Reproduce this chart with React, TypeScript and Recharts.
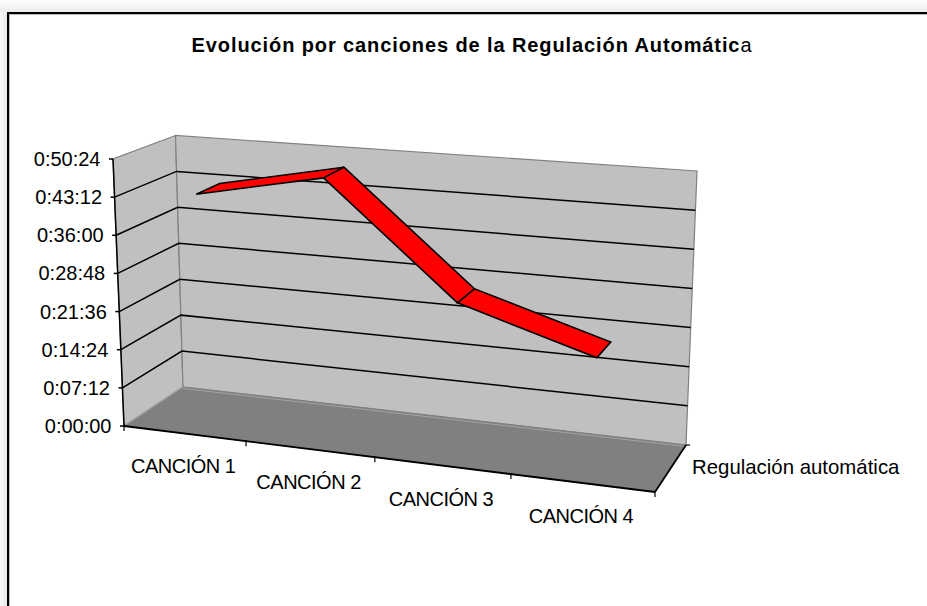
import { LineChart, Line, XAxis, YAxis, Customized } from 'recharts';

const CATEGORIES = ['CANCIÓN 1', 'CANCIÓN 2', 'CANCIÓN 3', 'CANCIÓN 4'];
// durations in seconds
const DURATIONS = [2585, 2882, 1624, 1179];
const Y_TICKS = [0, 432, 864, 1296, 1728, 2160, 2592, 3024];
const SERIES_NAME = 'Regulación automática';

const data = CATEGORIES.map((name, i) => ({ name, seconds: DURATIONS[i] }));

const WIDTH = 927;
const HEIGHT = 606;
const FONT = "'Liberation Sans', Arial, sans-serif";

// front face of the box, in the flat chart the axes lay out
const PLOT = { left: 124, top: 159, right: 655, bottom: 426 };
const PLOT_W = PLOT.right - PLOT.left;
const PLOT_H = PLOT.bottom - PLOT.top;

// box corners on screen: F/B front/back, L/R left/right, T/B top/bottom
const FLB = [124, 426];
const FRB = [655, 492];
const FLT = [113, 159];
const FRT = [667, 201];
const BLB = [183, 387];
const BRB = [686, 445];
const BLT = [175.5, 135.5];
const BRT = [697, 171];

const RIBBON_NEAR = 0.33;
const RIBBON_FAR = 0.73;

const mix = (a: number[], b: number[], t: number) => [a[0] + (b[0] - a[0]) * t, a[1] + (b[1] - a[1]) * t];

// u along categories, v along time, w into the depth
function project(u: number, v: number, w: number) {
  // the categories foreshorten towards the back of the box
  const k = 1.117;
  const t = u / (u + k * (1 - u));
  const front = mix(mix(FLB, FRB, t), mix(FLT, FRT, t), v);
  const back = mix(mix(BLB, BRB, t), mix(BLT, BRT, t), v);
  return mix(front, back, w);
}

const toU = (x: number) => (x - PLOT.left) / PLOT_W;
const toV = (y: number) => (PLOT.bottom - y) / PLOT_H;
const pts = (list: number[][]) => list.map((p) => p.join(',')).join(' ');

function formatDuration(s: number) {
  const h = Math.floor(s / 3600);
  const m = Math.floor((s % 3600) / 60);
  const sec = s % 60;
  return `${h}:${String(m).padStart(2, '0')}:${String(sec).padStart(2, '0')}`;
}

function Box() {
  const vmax = Y_TICKS[Y_TICKS.length - 1];
  return (
    <g>
      <polygon points={pts([FLB, FLT, BLT, BLB])} fill="#C0C0C0" stroke="#808080" strokeWidth={1.2} />
      <polygon points={pts([BLB, BLT, BRT, BRB])} fill="#C0C0C0" stroke="#808080" strokeWidth={1.2} />
      <polygon points={pts([FLB, BLB, BRB, FRB])} fill="#808080" stroke="#808080" strokeWidth={1} />
      <line x1={BLB[0]} y1={BLB[1] + 1.5} x2={BRB[0]} y2={BRB[1] + 1.5} stroke="#ABABAB" strokeWidth={0.8} />
      <line x1={FLB[0]} y1={FLB[1]} x2={BLB[0]} y2={BLB[1]} stroke="#A8A8A8" strokeWidth={1} />

      {Y_TICKS.slice(1, -1).map((tick) => {
        const v = tick / vmax;
        const a = project(0, v, 0);
        const b = project(0, v, 1);
        const c = project(1, v, 1);
        return (
          <polyline key={tick} points={pts([a, b, c])} fill="none" stroke="#000" strokeWidth={1.5} />
        );
      })}

      <line x1={FLT[0]} y1={FLT[1]} x2={FLB[0]} y2={FLB[1]} stroke="#000" strokeWidth={1.5} />
      <line x1={FLB[0]} y1={FLB[1]} x2={FRB[0]} y2={FRB[1]} stroke="#000" strokeWidth={1.8} />
      <line x1={FRB[0]} y1={FRB[1]} x2={BRB[0]} y2={BRB[1]} stroke="#000" strokeWidth={1.8} />

      {/* category boundaries along the front edge */}
      {[0, 1, 2, 3, 4].map((i) => {
        const p = project(i / CATEGORIES.length, 0, 0);
        return <line key={i} x1={p[0]} y1={p[1] - 1} x2={p[0]} y2={p[1] + 5} stroke="#000" strokeWidth={1.2} />;
      })}
      <line x1={BRB[0]} y1={BRB[1]} x2={BRB[0] + 4} y2={BRB[1]} stroke="#000" strokeWidth={1.2} />

      <text x={692} y={474} fontSize={20.4} fontFamily={FONT} fill="#000">
        {SERIES_NAME}
      </text>
    </g>
  );
}

function ValueTick({ y, payload }: any) {
  const p = project(0, toV(y), 0);
  return (
    <g>
      <line x1={p[0] - 4} y1={p[1]} x2={p[0]} y2={p[1]} stroke="#000" strokeWidth={1.5} />
      <text x={p[0] - 12.5} y={p[1] + 7} textAnchor="end" fontSize={20} fontFamily={FONT} fill="#000">
        {formatDuration(payload.value)}
      </text>
    </g>
  );
}

function CategoryTick({ x, payload }: any) {
  const p = project(toU(x), 0, 0);
  return (
    <text
      x={p[0] - 1}
      y={p[1] + 40}
      textAnchor="middle"
      fontSize={20}
      letterSpacing={-0.5}
      fontFamily={FONT}
      fill="#000"
    >
      {payload.value}
    </text>
  );
}

// one length of the ribbon, from this point to the next
function RibbonSegment({ index, points }: any) {
  const a = points[index];
  const b = points[index + 1];
  if (!b) return <g key={index} />;
  const corners = [
    project(toU(a.x), toV(a.y), RIBBON_NEAR),
    project(toU(a.x), toV(a.y), RIBBON_FAR),
    project(toU(b.x), toV(b.y), RIBBON_FAR),
    project(toU(b.x), toV(b.y), RIBBON_NEAR),
  ];
  return (
    <polygon
      key={index}
      points={pts(corners)}
      fill="#FF0000"
      stroke="#000"
      strokeWidth={1.6}
      strokeLinejoin="miter"
    />
  );
}

export default function App() {
  return (
    <div
      style={{
        position: 'absolute',
        left: 0,
        top: 0,
        width: WIDTH,
        height: HEIGHT,
        overflow: 'hidden',
        background: '#fff',
      }}
    >
      {/* window shadow around the sheet */}
      <div
        style={{
          position: 'absolute',
          left: 0,
          top: 0,
          width: WIDTH,
          height: 12,
          background: 'linear-gradient(#fdfdfd, #ececec)',
        }}
      />
      <div
        style={{
          position: 'absolute',
          left: 0,
          top: 12,
          width: 7,
          height: HEIGHT - 12,
          background: 'linear-gradient(90deg, #f8f8f8, #e8e8e8)',
        }}
      />
      <div
        style={{
          position: 'absolute',
          left: 7,
          top: 12,
          width: WIDTH - 7,
          height: HEIGHT - 12,
          boxSizing: 'border-box',
          borderTop: '2px solid #000',
          borderLeft: '2px solid #000',
          boxShadow: 'inset 1px 1px 0 #b8b8b8',
        }}
      />
      <LineChart
        width={WIDTH}
        height={HEIGHT}
        data={data}
        margin={{ top: PLOT.top, right: WIDTH - PLOT.right, bottom: 0, left: 0 }}
        style={{ position: 'absolute', left: 0, top: 0 }}
      >
        <Customized component={Box} />
        <text
          x={472}
          y={52}
          textAnchor="middle"
          fontSize={20}
          letterSpacing={0.9}
          fontWeight="bold"
          fontFamily={FONT}
          fill="#000"
        >
          Evolución por canciones de la Regulación Automátic
          <tspan fontWeight="normal">a</tspan>
        </text>
        <XAxis
          dataKey="name"
          height={HEIGHT - PLOT.bottom}
          padding={{ left: PLOT_W / 8, right: PLOT_W / 8 }}
          axisLine={false}
          tickLine={false}
          interval={0}
          tick={CategoryTick}
        />
        <YAxis
          width={PLOT.left}
          domain={[0, 3024]}
          ticks={Y_TICKS}
          interval={0}
          axisLine={false}
          tickLine={false}
          tick={ValueTick}
        />
        <Line
          dataKey="seconds"
          stroke="none"
          dot={RibbonSegment}
          activeDot={false}
          isAnimationActive={false}
        />
      </LineChart>
    </div>
  );
}
